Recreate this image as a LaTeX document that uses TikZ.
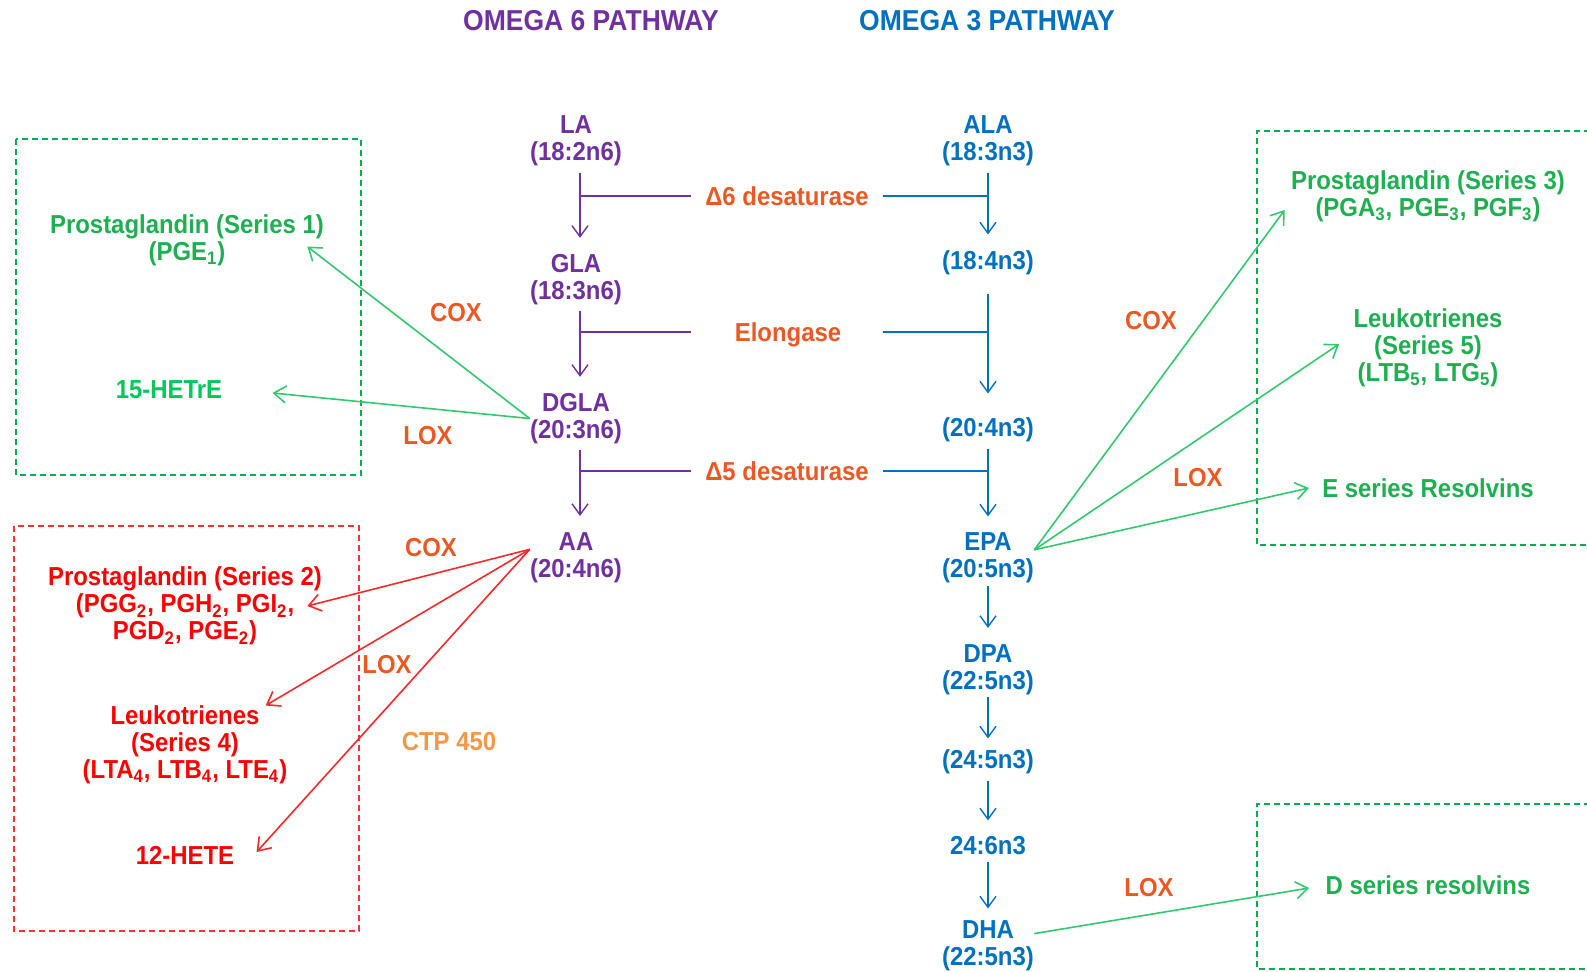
\documentclass[tikz,border=0pt]{standalone}
\usepackage{fontspec}
\setmainfont[FakeStretch=0.92]{Liberation Sans}
\usetikzlibrary{arrows.meta}

\definecolor{sixpurple}{RGB}{112,48,160}
\definecolor{threeblue}{RGB}{0,112,192}
\definecolor{enzorange}{RGB}{236,88,36}
\definecolor{ctporange}{RGB}{247,150,70}
\definecolor{pggreen}{RGB}{30,176,80}
\definecolor{hetgreen}{RGB}{0,200,90}
\definecolor{arrowgreen}{RGB}{50,200,110}
\definecolor{boxgreen}{RGB}{0,176,80}
\definecolor{prodred}{RGB}{255,0,0}
\definecolor{arrowred}{RGB}{250,40,40}
\definecolor{boxred}{RGB}{255,50,50}

\begin{document}
\begin{tikzpicture}[x=0.5pt, y=-0.5pt,
    every node/.style={inner sep=0pt, align=center, font=\fontsize{13}{13.5}\selectfont\bfseries},
    title/.style={font=\fontsize{14.4}{16}\selectfont\bfseries},
    enzyme/.style={text=enzorange, inner xsep=7pt, text height=9.5pt, text depth=0pt},
    sixbar/.style={draw=sixpurple, line width=0.7pt},
    threebar/.style={draw=threeblue, line width=0.7pt},
    sixstep/.style={sixbar, -{Straight Barb[length=5.5pt,width=8pt]}, shorten <=3pt, shorten >=8pt},
    threestep/.style={threebar, -{Straight Barb[length=5.5pt,width=8pt]}, shorten <=3pt, shorten >=8pt},
    greenarrow/.style={draw=arrowgreen, line width=0.8pt, -{Straight Barb[length=6pt,width=8.5pt]}},
    redarrow/.style={greenarrow, draw=arrowred},
    greenbox/.style={draw=boxgreen, line width=0.6pt, dash pattern=on 3pt off 2pt},
    redbox/.style={greenbox, draw=boxred}]
    \useasboundingbox (0,0) rectangle (1587,971);

    % Titles
    \node[title, text=sixpurple] (omsix) at (591,21) {OMEGA 6 PATHWAY};
    \node[title, text=threeblue] (omthree) at (987,21) {OMEGA 3 PATHWAY};

    % Omega 6 chain
    \node[text=sixpurple] (LA) at (576,141) {LA\\(18:2n6)};
    \node[text=sixpurple] (GLA) at (576,279.5) {GLA\\(18:3n6)};
    \node[text=sixpurple] (DGLA) at (576,418.5) {DGLA\\(20:3n6)};
    \node[text=sixpurple] (AA) at (576,557.5) {AA\\(20:4n6)};

    % Omega 3 chain
    \node[text=threeblue] (ALA) at (988,141) {ALA\\(18:3n3)};
    \node[text=threeblue] (SDA) at (988,263) {(18:4n3)};
    \node[text=threeblue] (ETA) at (988,430) {(20:4n3)};
    \node[text=threeblue] (EPA) at (988,558) {EPA\\(20:5n3)};
    \node[text=threeblue] (DPA) at (988,669.5) {DPA\\(22:5n3)};
    \node[text=threeblue] (TPA) at (988,762) {(24:5n3)};
    \node[text=threeblue] (THA) at (988,846) {24:6n3};
    \node[text=threeblue] (DHA) at (988,946) {DHA\\(22:5n3)};

    % Enzymes shared by both chains
    \node[enzyme] (dsix) at (787,196) {Δ6 desaturase};
    \node[enzyme] (elong) at (788,332) {Elongase};
    \node[enzyme] (dfive) at (787,471) {Δ5 desaturase};

    \draw[sixbar] (dsix.west) -- ([xshift=2pt]dsix.west -| LA.south);
    \draw[threebar] (dsix.east) -- (dsix.east -| ALA.south);
    \draw[sixbar] (elong -| dsix.west) -- ([xshift=2pt]elong -| GLA.south);
    \draw[threebar] (elong -| dsix.east) -- (elong -| SDA.south);
    \draw[sixbar] (dfive.west) -- ([xshift=2pt]dfive.west -| DGLA.south);
    \draw[threebar] (dfive.east) -- (dfive.east -| ETA.south);

    \draw[sixstep] ([xshift=2pt]LA.south) -- ([xshift=2pt]GLA.north);
    \draw[sixstep] ([xshift=2pt]GLA.south) -- ([xshift=2pt]DGLA.north);
    \draw[sixstep] ([xshift=2pt]DGLA.south) -- ([xshift=2pt]AA.north);

    \draw[threestep] (ALA) -- (SDA);
    \draw[threestep, shorten <=9pt, shorten >=12pt] (SDA) -- (ETA);
    \draw[threestep] (ETA) -- (EPA);
    \draw[threestep, shorten <=1pt] (EPA) -- (DPA);
    \draw[threestep, shorten <=1pt, shorten >=5.5pt] (DPA) -- (TPA);
    \draw[threestep] (TPA) -- (THA);
    \draw[threestep, shorten >=6pt] (THA) -- (DHA);

    % DGLA products
    \draw[greenbox] (16,139) rectangle (361,475);
    \node[text=pggreen] (PGone) at (187,240.5) {Prostaglandin (Series 1)\\(PGE\textsubscript{1})};
    \node[text=hetgreen] (HETrE) at (169,390) {15-HETrE};
    \draw[greenarrow] (DGLA.west) -- ([xshift=-8.5pt,yshift=-3pt]PGone.east);
    \draw[greenarrow] (DGLA.west) -- ([xshift=25pt,yshift=-1.5pt]HETrE.east);
    \node[text=enzorange] (coxone) at (456,313) {COX};
    \node[text=enzorange] (loxone) at (428,436) {LOX};

    % AA products
    \draw[redbox] (14,526) rectangle (359,931);
    \node[text=prodred] (PGtwo) at (185,606) {Prostaglandin (Series 2)\\(PGG\textsubscript{2}, PGH\textsubscript{2}, PGI\textsubscript{2},\\PGD\textsubscript{2}, PGE\textsubscript{2})};
    \node[text=prodred] (LTfour) at (185,745) {Leukotrienes\\(Series 4)\\(LTA\textsubscript{4}, LTB\textsubscript{4}, LTE\textsubscript{4})};
    \node[text=prodred] (HETE) at (185,855) {12-HETE};
    \draw[redarrow] (AA.170) -- ([xshift=-7.5pt]PGtwo.east);
    \draw[redarrow] (AA.170) -- ([xshift=-11pt]LTfour.north east);
    \draw[redarrow] (AA.170) -- ([xshift=11pt,yshift=1.5pt]HETE.east);
    \node[text=enzorange] (coxtwo) at (431,548) {COX};
    \node[text=enzorange] (loxtwo) at (387,665) {LOX};
    \node[text=ctporange] (ctp) at (449,742) {CTP 450};

    % EPA products
    \draw[greenbox] (1600,131) -- (1257,131) -- (1257,545) -- (1600,545);
    \node[text=pggreen] (PGthree) at (1428,196) {Prostaglandin (Series 3)\\(PGA\textsubscript{3}, PGE\textsubscript{3}, PGF\textsubscript{3})};
    \node[text=pggreen] (LTfive) at (1428,348) {Leukotrienes\\(Series 5)\\(LTB\textsubscript{5}, LTG\textsubscript{5})};
    \node[text=pggreen] (Eres) at (1428,488) {E series Resolvins};
    \draw[greenarrow] (EPA.10) -- ([xshift=-3pt,yshift=-7pt]PGthree.west);
    \draw[greenarrow] (EPA.10) -- ([xshift=-7pt,yshift=2pt]LTfive.west);
    \draw[greenarrow] (EPA.10) -- ([xshift=-6.5pt]Eres.west);
    \node[text=enzorange] (coxthree) at (1151,321) {COX};
    \node[text=enzorange] (loxthree) at (1198,478) {LOX};

    % DHA products
    \draw[greenbox] (1600,804) -- (1257,804) -- (1257,969) -- (1600,969);
    \node[text=pggreen] (Dres) at (1428,885) {D series resolvins};
    \draw[greenarrow] (DHA.15) -- ([xshift=-8pt,yshift=-1.5pt]Dres.west);
    \node[text=enzorange] (loxfour) at (1149,888) {LOX};
\end{tikzpicture}
\end{document}
